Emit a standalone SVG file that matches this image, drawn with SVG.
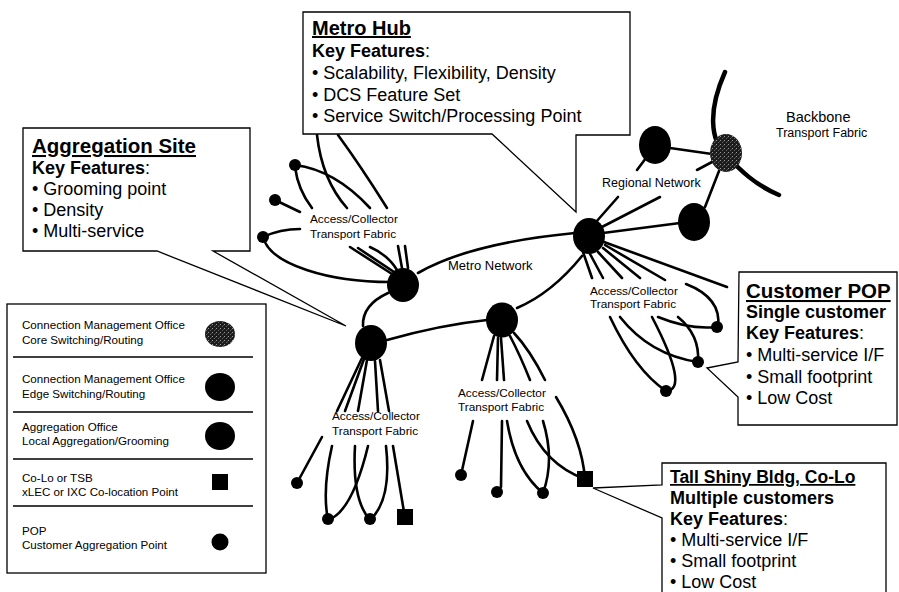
<svg xmlns="http://www.w3.org/2000/svg" width="899" height="592" viewBox="0 0 899 592">
<defs>
<pattern id="speck" width="4" height="4" patternUnits="userSpaceOnUse">
<rect width="4" height="4" fill="#1c1c1c"/>
<rect x="0" y="0" width="1" height="1" fill="#9a9a9a"/>
<rect x="2" y="2" width="1" height="1" fill="#606060"/>
<rect x="3" y="1" width="1" height="1" fill="#444"/>
</pattern>
<style>
.t{font-family:"Liberation Sans",Arial,sans-serif;fill:#000}
.h{font-weight:bold;text-decoration:underline}
.b{font-weight:bold}
.call{fill:#fff;stroke:#000;stroke-width:1.3}
.ln{fill:none;stroke:#000;stroke-width:2.6;stroke-linecap:round}
.thin{fill:none;stroke:#000;stroke-width:1.3}
.lab{font-size:11.8px}
.leg{font-size:11.6px}
</style>
</defs>
<rect width="899" height="592" fill="#fff"/>

<g id="connectors">
<!-- backbone -->
<path d="M725,72 C708,110 710,140 726,155 C740,170 755,185 779,195" fill="none" stroke="#000" stroke-width="4.5" stroke-linecap="round"/>
<!-- regional -->
<path class="ln" d="M603,233 L680,223"/>
<path class="ln" d="M596,222 L618,197"/>
<path class="ln" d="M637,170 L646,158"/>
<path class="ln" d="M600,228 L660,197"/>
<path class="ln" d="M697,170 L712,162"/>
<path class="ln" d="M670,148 L712,154"/>
<path class="ln" d="M705,207 L719,171"/>
<!-- metro ring -->
<path class="ln" d="M418,273 Q470,243 575,233"/>
<path class="ln" d="M387,340 Q440,325 487,320"/>
<path class="ln" d="M517,308 Q552,293 582,256"/>
<path class="ln" d="M388,293 Q362,305 363,326"/>
<!-- upper-left access fabric -->
<path class="ln" d="M317,135 Q322,180 347,208"/>
<path class="ln" d="M338,135 Q360,165 387,208"/>
<path class="ln" d="M295,165 Q335,170 370,208"/>
<path class="ln" d="M295,167 Q298,190 312,208"/>
<path class="ln" d="M275,200 L300,212"/>
<path class="ln" d="M263,237 Q280,229 300,229"/>
<path class="ln" d="M263,237 C270,265 330,282 390,282"/>
<path class="ln" d="M350,247 L392,274"/>
<path class="ln" d="M358,248 L394,272"/>
<path class="ln" d="M370,247 Q388,255 397,270"/>
<path class="ln" d="M398,246 L402,268"/>
<path class="ln" d="M405,246 L408,268"/>
<!-- lower-left access fabric -->
<path class="ln" d="M337,411 L362,358"/>
<path class="ln" d="M345,411 L364,359"/>
<path class="ln" d="M358,411 L367,360"/>
<path class="ln" d="M378,411 L375,361"/>
<path class="ln" d="M389,411 L380,360"/>
<path class="ln" d="M322,437 L297,483"/>
<path class="ln" d="M332,446 Q322,490 328,520"/>
<path class="ln" d="M328,520 Q352,512 368,446"/>
<path class="ln" d="M355,446 Q352,500 370,520"/>
<path class="ln" d="M370,520 Q392,500 386,446"/>
<path class="ln" d="M393,446 L404,512"/>
<!-- center access fabric -->
<path class="ln" d="M482,380 L494,336"/>
<path class="ln" d="M497,380 L498,338"/>
<path class="ln" d="M504,380 L501,338"/>
<path class="ln" d="M530,380 Q520,355 510,336"/>
<path class="ln" d="M545,380 Q530,350 514,333"/>
<path class="ln" d="M473,421 L461,475"/>
<path class="ln" d="M502,421 L501,487"/>
<path class="ln" d="M507,421 Q515,470 543,493"/>
<path class="ln" d="M527,421 Q545,465 585,479"/>
<path class="ln" d="M543,421 Q555,460 543,493"/>
<path class="ln" d="M556,397 Q582,440 585,479"/>
<!-- right access fabric -->
<path class="ln" d="M583,252 L592,278"/>
<path class="ln" d="M590,254 L603,278"/>
<path class="ln" d="M598,252 L622,278"/>
<path class="ln" d="M603,248 L640,278"/>
<path class="ln" d="M605,245 L665,280"/>
<path class="ln" d="M604,242 L727,287"/>
<path class="ln" d="M686,284 Q722,298 718,327"/>
<path class="ln" d="M658,317 Q690,330 717,327"/>
<path class="ln" d="M678,317 Q700,335 698,362"/>
<path class="ln" d="M620,317 Q650,355 698,362"/>
<path class="ln" d="M652,317 Q690,390 666,391"/>
<path class="ln" d="M610,317 Q635,370 666,391"/>
</g>

<g id="node-metro-hub"><ellipse cx="589" cy="236" rx="16" ry="18"/></g>
<g id="node-metro-a"><ellipse cx="403" cy="285" rx="16" ry="17"/></g>
<g id="node-metro-b"><ellipse cx="371" cy="343" rx="16" ry="18"/></g>
<g id="node-metro-c"><ellipse cx="502" cy="320" rx="16" ry="17.5"/></g>
<g id="node-regional-1"><ellipse cx="655" cy="145" rx="16" ry="19"/></g>
<g id="node-regional-2"><ellipse cx="694" cy="222" rx="16" ry="19"/></g>
<g id="node-core"><ellipse cx="726" cy="153" rx="16" ry="19" fill="url(#speck)"/></g>
<g id="pops">
<circle cx="295" cy="165" r="6"/>
<circle cx="275" cy="200" r="6"/>
<circle cx="263" cy="237" r="6"/>
<circle cx="297" cy="483" r="6"/>
<circle cx="328" cy="519" r="6"/>
<circle cx="370" cy="519" r="6"/>
<rect x="397" y="509" width="16" height="16"/>
<circle cx="461" cy="475" r="6"/>
<circle cx="497" cy="492" r="6"/>
<circle cx="543" cy="493" r="6"/>
<rect x="577" y="471" width="16" height="16"/>
<circle cx="717" cy="327" r="6"/>
<circle cx="698" cy="362" r="6"/>
<circle cx="666" cy="391" r="6"/>
</g>

<g id="fabric-labels" class="t">
<text class="lab" x="310" y="223">Access/Collector</text>
<text class="lab" x="310" y="238">Transport Fabric</text>
<text class="lab" x="332" y="420">Access/Collector</text>
<text class="lab" x="332" y="435">Transport Fabric</text>
<text class="lab" x="458" y="397">Access/Collector</text>
<text class="lab" x="458" y="411">Transport Fabric</text>
<text class="lab" x="590" y="295">Access/Collector</text>
<text class="lab" x="590" y="308">Transport Fabric</text>
<text x="448" y="270" font-size="13">Metro Network</text>
<text x="602" y="187" font-size="12.5">Regional Network</text>
<text x="786" y="122" font-size="14.5">Backbone</text>
<text x="776" y="137" font-size="12.5">Transport Fabric</text>
</g>

<g id="callout-metro-hub">
<path class="call" d="M303,12 H630 V135 H576 V212 L492,134 H303 Z"/>
<g class="t">
<text class="h" x="312" y="35" font-size="20">Metro Hub</text>
<text x="312" y="57" font-size="18"><tspan class="b">Key Features</tspan>:</text>
<text x="312" y="79" font-size="18">• Scalability, Flexibility, Density</text>
<text x="312" y="101" font-size="18">• DCS Feature Set</text>
<text x="312" y="122" font-size="18">• Service Switch/Processing Point</text>
</g>
</g>

<g id="callout-aggregation">
<path class="call" d="M23,128 H250 V251 H213 L346,326 L157,251 H23 Z"/>
<g class="t">
<text class="h" x="32" y="153" font-size="20.5">Aggregation Site</text>
<text x="32" y="174" font-size="18"><tspan class="b">Key Features</tspan>:</text>
<text x="32" y="195" font-size="18">• Grooming point</text>
<text x="32" y="216" font-size="18">• Density</text>
<text x="32" y="237" font-size="18">• Multi-service</text>
</g>
</g>

<g id="callout-customer-pop">
<path class="call" d="M739,272 H897 V425 H738 V397 L707,368 L738,362 Z"/>
<g class="t">
<text class="h" x="746" y="298" font-size="20.5">Customer POP</text>
<text class="b" x="746" y="318" font-size="18">Single customer</text>
<text x="746" y="339" font-size="18"><tspan class="b">Key Features</tspan>:</text>
<text x="746" y="361" font-size="18">• Multi-service I/F</text>
<text x="746" y="383" font-size="18">• Small footprint</text>
<text x="746" y="404" font-size="18">• Low Cost</text>
</g>
</g>

<g id="callout-tall-shiny">
<path class="call" d="M662,463 H886 V600 H662 V518 L593,488 L662,485 Z"/>
<g class="t">
<text class="h" x="670" y="483" font-size="17.5">Tall Shiny Bldg, Co-Lo</text>
<text class="b" x="670" y="504" font-size="18">Multiple customers</text>
<text x="670" y="525" font-size="18"><tspan class="b">Key Features</tspan>:</text>
<text x="670" y="546" font-size="18">• Multi-service I/F</text>
<text x="670" y="567" font-size="18">• Small footprint</text>
<text x="670" y="588" font-size="18">• Low Cost</text>
</g>
</g>

<g id="legend">
<rect x="7" y="304" width="259" height="269" class="call"/>
<path class="thin" d="M13,357 H253 M13,412 H253 M13,459 H253 M13,506 H253"/>
<g class="t leg">
<text x="22" y="329">Connection Management Office</text>
<text x="22" y="344">Core Switching/Routing</text>
<text x="22" y="383">Connection Management Office</text>
<text x="22" y="398">Edge Switching/Routing</text>
<text x="22" y="431">Aggregation Office</text>
<text x="22" y="445">Local Aggregation/Grooming</text>
<text x="22" y="482">Co-Lo or TSB</text>
<text x="22" y="496">xLEC or IXC Co-location Point</text>
<text x="22" y="535">POP</text>
<text x="22" y="549">Customer Aggregation Point</text>
</g>
<ellipse cx="220" cy="334" rx="15" ry="13" fill="url(#speck)"/>
<ellipse cx="220" cy="387" rx="15" ry="14"/>
<ellipse cx="220" cy="436" rx="15" ry="14"/>
<rect x="212" y="474" width="16" height="16"/>
<circle cx="220" cy="542" r="8.5"/>
</g>
</svg>
